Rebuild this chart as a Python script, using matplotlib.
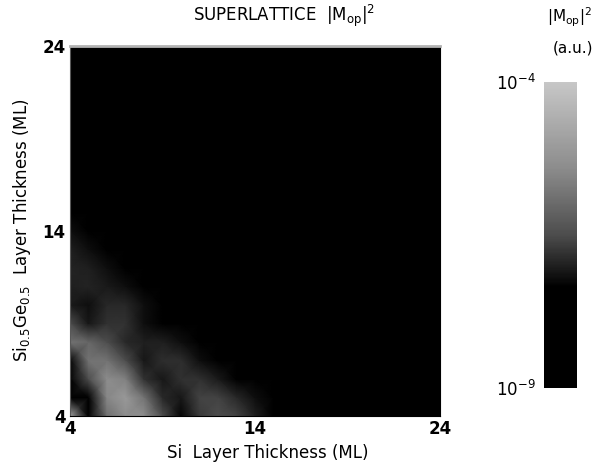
#!/usr/bin/env python3

import numpy as np
import matplotlib
matplotlib.use("Agg")
from matplotlib import pyplot as plt
from matplotlib.colors import LinearSegmentedColormap

# layer thicknesses (ML)
si_ml = list(range(4, 25))
sige_ml = list(range(4, 25))

# log10 |M_op|^2, one row per SiGe thickness (4 .. 24), columns = Si thickness (4 .. 24)
log_mop2 = [
    [-4.8, -7.8, -5.9, -5.4, -5.4, -6.5, -7.3, -6.7, -6.5, -6.6, -7.0, -7.8, -8.2, -8.4, -8.5, -8.5, -8.6, -8.6, -8.7, -8.7, -8.8],
    [-7.8, -7.4, -5.5, -5.1, -5.85, -6.9, -7.1, -6.6, -6.6, -6.9, -7.2, -7.9, -8.3, -8.4, -8.5, -8.6, -8.6, -8.7, -8.7, -8.8, -8.8],
    [-7.8, -6.5, -5.4, -5.6, -6.8, -7.1, -6.8, -6.8, -7.05, -7.6, -8.0, -8.3, -8.5, -8.5, -8.6, -8.6, -8.7, -8.7, -8.8, -8.8, -8.9],
    [-7.3, -5.85, -5.85, -6.5, -7.1, -6.85, -6.85, -7.2, -7.8, -8.2, -8.4, -8.5, -8.6, -8.6, -8.7, -8.7, -8.8, -8.8, -8.9, -8.9, -8.9],
    [-5.85, -6.05, -6.5, -6.9, -7.0, -7.0, -7.2, -7.8, -8.2, -8.4, -8.5, -8.6, -8.6, -8.7, -8.7, -8.8, -8.8, -8.9, -8.9, -8.9, -9.0],
    [-6.5, -7.1, -6.8, -6.8, -7.2, -7.8, -8.1, -8.3, -8.5, -8.5, -8.6, -8.7, -8.7, -8.8, -8.8, -8.9, -8.9, -8.9, -9.0, -9.0, -9.0],
    [-7.05, -7.2, -6.9, -6.9, -7.2, -7.9, -8.3, -8.4, -8.5, -8.6, -8.7, -8.7, -8.8, -8.8, -8.9, -8.9, -8.9, -9.0, -9.0, -9.0, -9.0],
    [-7.0, -6.95, -7.05, -7.2, -7.8, -8.2, -8.4, -8.5, -8.6, -8.7, -8.7, -8.8, -8.8, -8.9, -8.9, -8.9, -9.0, -9.0, -9.0, -9.0, -9.0],
    [-6.95, -7.0, -7.2, -7.7, -8.1, -8.3, -8.5, -8.6, -8.6, -8.7, -8.8, -8.8, -8.9, -8.9, -8.9, -9.0, -9.0, -9.0, -9.0, -9.0, -9.0],
    [-7.0, -7.2, -7.6, -8.0, -8.3, -8.4, -8.5, -8.6, -8.7, -8.8, -8.8, -8.9, -8.9, -8.9, -9.0, -9.0, -9.0, -9.0, -9.0, -9.0, -9.0],
    [-7.2, -7.6, -7.9, -8.2, -8.4, -8.5, -8.6, -8.7, -8.7, -8.8, -8.9, -8.9, -8.9, -9.0, -9.0, -9.0, -9.0, -9.0, -9.0, -9.0, -9.0],
    [-7.7, -8.0, -8.2, -8.4, -8.5, -8.6, -8.7, -8.7, -8.8, -8.9, -8.9, -8.9, -9.0, -9.0, -9.0, -9.0, -9.0, -9.0, -9.0, -9.0, -9.0],
    [-8.1, -8.3, -8.4, -8.5, -8.6, -8.7, -8.7, -8.8, -8.8, -8.9, -8.9, -9.0, -9.0, -9.0, -9.0, -9.0, -9.0, -9.0, -9.0, -9.0, -9.0],
    [-8.3, -8.4, -8.5, -8.6, -8.7, -8.7, -8.8, -8.8, -8.9, -8.9, -9.0, -9.0, -9.0, -9.0, -9.0, -9.0, -9.0, -9.0, -9.0, -9.0, -9.0],
    [-8.4, -8.5, -8.6, -8.7, -8.7, -8.8, -8.8, -8.9, -8.9, -9.0, -9.0, -9.0, -9.0, -9.0, -9.0, -9.0, -9.0, -9.0, -9.0, -9.0, -9.0],
    [-8.5, -8.6, -8.6, -8.7, -8.8, -8.8, -8.9, -8.9, -9.0, -9.0, -9.0, -9.0, -9.0, -9.0, -9.0, -9.0, -9.0, -9.0, -9.0, -9.0, -9.0],
    [-8.5, -8.6, -8.7, -8.7, -8.8, -8.9, -8.9, -9.0, -9.0, -9.0, -9.0, -9.0, -9.0, -9.0, -9.0, -9.0, -9.0, -9.0, -9.0, -9.0, -9.0],
    [-8.6, -8.6, -8.7, -8.8, -8.8, -8.9, -9.0, -9.0, -9.0, -9.0, -9.0, -9.0, -9.0, -9.0, -9.0, -9.0, -9.0, -9.0, -9.0, -9.0, -9.0],
    [-8.6, -8.7, -8.7, -8.8, -8.9, -8.9, -9.0, -9.0, -9.0, -9.0, -9.0, -9.0, -9.0, -9.0, -9.0, -9.0, -9.0, -9.0, -9.0, -9.0, -9.0],
    [-8.7, -8.7, -8.8, -8.8, -8.9, -9.0, -9.0, -9.0, -9.0, -9.0, -9.0, -9.0, -9.0, -9.0, -9.0, -9.0, -9.0, -9.0, -9.0, -9.0, -9.0],
    [-8.7, -8.8, -8.8, -8.9, -8.9, -9.0, -9.0, -9.0, -9.0, -9.0, -9.0, -9.0, -9.0, -9.0, -9.0, -9.0, -9.0, -9.0, -9.0, -9.0, -9.0],
]

axis_ticks = [4, 14, 24]
cbar_ticks = [-9, -4]
cbar_ticklabels = ["$10^{-9}$", "$10^{-4}$"]


def main():
    # printed greyscale: black in the lower third, light grey at the top
    cmap = LinearSegmentedColormap.from_list(
        "print_grey",
        [(0.0, "black"), (0.33, "black"), (0.5, "0.3"), (0.72, "0.55"), (1.0, "0.78")])

    fig = plt.figure(figsize=(5.98, 4.69), dpi=100)
    ax = fig.add_axes([0.117, 0.113, 0.619, 0.789])

    X, Y = np.meshgrid(si_ml, sige_ml)
    mesh = ax.pcolormesh(X, Y, np.array(log_mop2), cmap=cmap, vmin=-9, vmax=-4,
                         shading="gouraud")

    ax.set_xlim(4, 24)
    ax.set_ylim(4, 24)
    ax.set_xticks(axis_ticks)
    ax.set_yticks(axis_ticks)
    ax.tick_params(length=0, labelsize=12, pad=3)
    for lab in ax.get_xticklabels() + ax.get_yticklabels():
        lab.set_fontweight("bold")
    ax.spines["top"].set_color("0.7")
    ax.spines["top"].set_linewidth(2)
    ax.spines["left"].set_color("0.35")

    fig.text(0.475, 0.966, "SUPERLATTICE  $|\\mathrm{M_{op}}|^2$", ha="center",
             va="center", fontsize=12)
    fig.text(0.448, 0.034, "Si  Layer Thickness (ML)", ha="center", va="center",
             fontsize=12)
    fig.text(0.037, 0.51, "Si$_{0.5}$Ge$_{0.5}$  Layer Thickness (ML)", ha="center",
             va="center", rotation=90, fontsize=12)

    cax = fig.add_axes([0.910, 0.173, 0.055, 0.652])
    cbar = fig.colorbar(mesh, cax=cax, ticks=cbar_ticks)
    cbar.outline.set_visible(False)
    cax.yaxis.set_ticks_position("left")
    cax.set_yticklabels(cbar_ticklabels)
    cax.tick_params(length=0, labelsize=12, pad=6)

    fig.text(0.953, 0.962, "$|\\mathrm{M_{op}}|^2$", ha="center", va="center", fontsize=11)
    fig.text(0.958, 0.898, "(a.u.)", ha="center", va="center", fontsize=11)

    plt.savefig("out.png", dpi=100)


if __name__ == '__main__':
    main()
